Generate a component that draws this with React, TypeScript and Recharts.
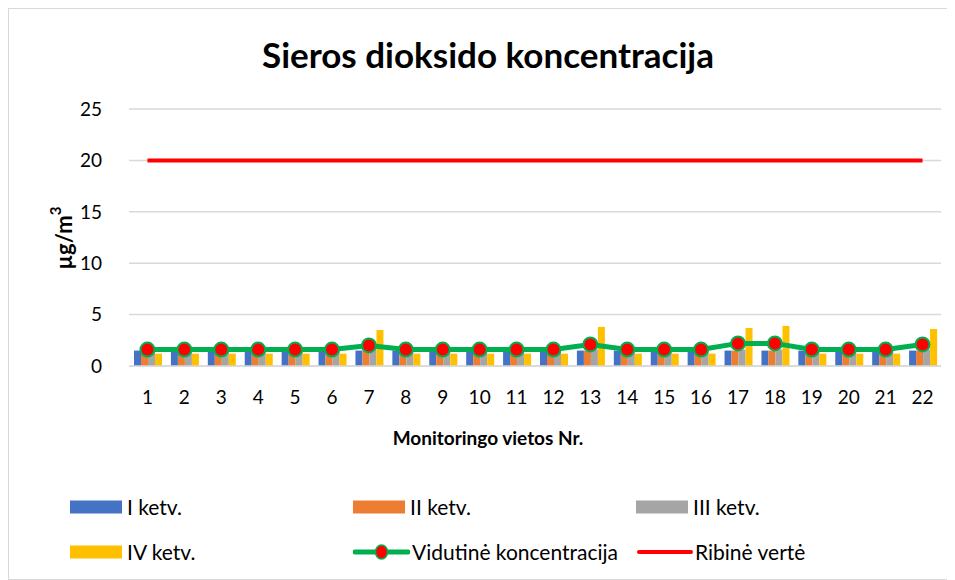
import React from 'react';
import {
  ComposedChart,
  Bar,
  Line,
  XAxis,
  YAxis,
  CartesianGrid,
  Legend,
  Label,
} from 'recharts';

// values
const sites = ['1', '2', '3', '4', '5', '6', '7', '8', '9', '10', '11', '12', '13', '14', '15', '16', '17', '18', '19', '20', '21', '22'];
const q1 = [1.5, 1.5, 1.5, 1.5, 1.5, 1.5, 1.5, 1.5, 1.5, 1.5, 1.5, 1.5, 1.5, 1.5, 1.5, 1.5, 1.5, 1.5, 1.5, 1.5, 1.5, 1.5];
const q2 = [1.4, 1.4, 1.4, 1.4, 1.4, 1.4, 1.5, 1.4, 1.4, 1.4, 1.4, 1.4, 1.5, 1.4, 1.4, 1.4, 1.5, 1.5, 1.4, 1.4, 1.4, 1.5];
const q3 = [1.5, 1.5, 1.5, 1.5, 1.5, 1.5, 1.6, 1.5, 1.5, 1.5, 1.5, 1.5, 1.6, 1.5, 1.5, 1.5, 1.6, 1.6, 1.5, 1.5, 1.5, 1.6];
const q4 = [1.2, 1.2, 1.2, 1.2, 1.2, 1.2, 3.5, 1.2, 1.2, 1.2, 1.2, 1.2, 3.8, 1.2, 1.2, 1.2, 3.7, 3.9, 1.2, 1.2, 1.2, 3.6];
const average = [1.6, 1.6, 1.6, 1.6, 1.6, 1.6, 2.0, 1.6, 1.6, 1.6, 1.6, 1.6, 2.1, 1.6, 1.6, 1.6, 2.2, 2.2, 1.6, 1.6, 1.6, 2.1];
const limit = 20;
const yTicks = [0, 5, 10, 15, 20, 25];

const data = sites.map((s, i) => ({
  site: s,
  q1: q1[i],
  q2: q2[i],
  q3: q3[i],
  q4: q4[i],
  avg: average[i],
  limit: limit,
}));

const FONT = 'Lato, "Open Sans", sans-serif';

type LegendItem = { label: string; kind: 'box' | 'dotline' | 'line'; color: string };

const legendRows: LegendItem[][] = [
  [
    { label: 'I ketv.', kind: 'box', color: '#4472c4' },
    { label: 'II ketv.', kind: 'box', color: '#ed7d31' },
    { label: 'III ketv.', kind: 'box', color: '#a5a5a5' },
  ],
  [
    { label: 'IV ketv.', kind: 'box', color: '#ffc000' },
    { label: 'Vidutinė koncentracija', kind: 'dotline', color: '#00b050' },
    { label: 'Ribinė vertė', kind: 'line', color: '#ff0000' },
  ],
];

const colLeft = [61, 344, 627];

const renderSwatch = (item: LegendItem) => {
  if (item.kind === 'box') {
    return (
      <svg width={55} height={16} style={{ display: 'block' }}>
        <rect x={0} y={1.5} width={52} height={13} fill={item.color} />
      </svg>
    );
  }
  if (item.kind === 'dotline') {
    return (
      <svg width={57} height={18} style={{ display: 'block' }}>
        <line x1={2} y1={9} x2={55} y2={9} stroke={item.color} strokeWidth={5} strokeLinecap="round" />
        <ellipse cx={28.5} cy={9} rx={6} ry={7} fill="#ff0000" stroke={item.color} strokeWidth={1.5} />
      </svg>
    );
  }
  return (
    <svg width={57} height={16} style={{ display: 'block' }}>
      <line x1={3} y1={8} x2={55} y2={8} stroke={item.color} strokeWidth={4} strokeLinecap="round" />
    </svg>
  );
};

const CustomLegend = () => (
  <div style={{ position: 'relative', width: 945, height: 100, fontFamily: FONT, fontSize: 21, color: '#000' }}>
    {legendRows.map((row, r) =>
      row.map((item, c) => (
        <div
          key={`${r}-${c}`}
          style={{
            position: 'absolute',
            left: colLeft[c],
            top: 26 + r * 45,
            transform: 'translateY(-50%)',
            display: 'flex',
            alignItems: 'center',
            whiteSpace: 'nowrap',
            lineHeight: '24px',
          }}
        >
          {renderSwatch(item)}
          <span style={{ marginLeft: 2 }}>{item.label}</span>
        </div>
      ))
    )}
  </div>
);

export default function App() {
  return (
    <div
      style={{
        position: 'relative',
        width: 945,
        height: 572,
        border: '1px solid #d9d9d9',
        boxSizing: 'border-box',
        background: '#fff',
        fontFamily: FONT,
      }}
    >
      <div
        style={{
          position: 'absolute',
          top: 24,
          left: 0,
          width: 958,
          textAlign: 'center',
          fontSize: 35,
          fontWeight: 'bold',
          color: '#000',
          fontFamily: FONT,
          lineHeight: '42px',
        }}
      >
        Sieros dioksido koncentracija
      </div>
      <ComposedChart
        width={945}
        height={572}
        data={data}
        margin={{ top: 100, right: 13, left: 60, bottom: 0 }}
        barGap={0}
        barCategoryGap={5}
      >
        <CartesianGrid vertical={false} stroke="#d9d9d9" strokeWidth={1.5} />
        <XAxis
          dataKey="site"
          height={115}
          axisLine={{ stroke: '#d9d9d9', strokeWidth: 1.5 }}
          tickLine={false}
          tick={{ fill: '#000', fontSize: 19, fontFamily: FONT }}
          tickMargin={19}
          interval={0}
        >
          <Label
            content={() => (
              <text
                x={479}
                y={428}
                textAnchor="middle"
                dominantBaseline="central"
                style={{ fill: '#000', fontSize: 19, fontWeight: 'bold', fontFamily: FONT }}
              >
                Monitoringo vietos Nr.
              </text>
            )}
          />
        </XAxis>
        <YAxis
          domain={[0, 25]}
          ticks={yTicks}
          width={60}
          axisLine={false}
          tickLine={false}
          tick={{ fill: '#000', fontSize: 19, fontFamily: FONT }}
          tickMargin={21}
        >
          <Label
            content={() => (
              <text
                x={0}
                y={0}
                transform="translate(54,229) rotate(-90)"
                textAnchor="middle"
                dominantBaseline="central"
                style={{ fill: '#000', fontSize: 22, fontWeight: 'bold', fontFamily: FONT }}
              >
                µg/m
                <tspan dy={-8} fontSize={15}>3</tspan>
              </text>
            )}
          />
        </YAxis>
        <Legend verticalAlign="bottom" content={<CustomLegend />} wrapperStyle={{ left: 0, width: 945, height: 100 }} />
        <Bar dataKey="q1" name="I ketv." fill="#4472c4" isAnimationActive={false} />
        <Bar dataKey="q2" name="II ketv." fill="#ed7d31" isAnimationActive={false} />
        <Bar dataKey="q3" name="III ketv." fill="#a5a5a5" isAnimationActive={false} />
        <Bar dataKey="q4" name="IV ketv." fill="#ffc000" isAnimationActive={false} />
        <Line
          dataKey="avg"
          name="Vidutinė koncentracija"
          stroke="#00b050"
          strokeWidth={5}
          dot={{ r: 7, fill: '#ff0000', stroke: '#00b050', strokeWidth: 2 }}
          activeDot={false}
          isAnimationActive={false}
        />
        <Line
          dataKey="limit"
          name="Ribinė vertė"
          stroke="#ff0000"
          strokeWidth={4}
          dot={false}
          activeDot={false}
          isAnimationActive={false}
        />
      </ComposedChart>
    </div>
  );
}
